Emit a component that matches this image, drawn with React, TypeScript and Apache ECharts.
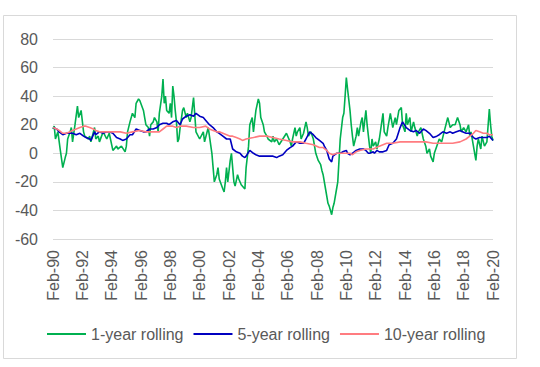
import React, { useEffect, useRef } from "react";
import * as echarts from "echarts";

// month index from Feb-90 (0) to Feb-20 (360)
const oneYear: [number, number][] = [
  [0, 17], [1, 19], [2, 10], [4, 15], [6, 2], [8, -10], [10, -3], [11, 0], [12, 10], [14, 15], [15, 18], [16, 8],
  [18, 20], [20, 33], [21, 25], [23, 30], [25, 15], [26, 12], [29, 10], [30, 12], [31, 8], [34, 18], [35, 10],
  [37, 12], [38, 8], [41, 15], [44, 10], [46, 14], [49, 2], [52, 5], [53, 3], [56, 5], [59, 1], [60, 5],
  [61, 15], [63, 22], [65, 28], [67, 25], [68, 35], [70, 38], [71, 37], [74, 30], [75, 25], [76, 20], [78, 18],
  [79, 12], [80, 20], [82, 22], [83, 25], [85, 22], [86, 15], [87, 28], [89, 40], [90, 52], [91, 35], [92, 40],
  [93, 30], [95, 28], [96, 35], [97, 25], [98, 47], [99, 40], [100, 30], [101, 22], [102, 8], [103, 10],
  [104, 18], [106, 30], [107, 32], [109, 25], [110, 28], [112, 22], [113, 25], [115, 39], [117, 15], [120, 10],
  [123, 15], [124, 8], [127, 18], [128, 12], [130, 0], [131, -10], [132, -20], [134, -15], [135, -10],
  [136, -18], [139, -25], [140, -27], [141, -20], [142, -10], [143, -20], [145, -5], [146, 0], [147, -10],
  [148, -20], [149, -23], [151, -15], [152, -18], [154, -22], [157, -25], [158, -10], [160, 5], [161, 20],
  [163, 25], [164, 15], [166, 30], [168, 38], [169, 35], [170, 25], [172, 20], [173, 15], [175, 12], [176, 10],
  [179, 8], [180, 12], [181, 8], [183, 10], [185, 6], [188, 10], [191, 14], [194, 8], [195, 5], [196, 10],
  [198, 18], [199, 12], [200, 15], [202, 18], [203, 10], [205, 14], [207, 22], [208, 18], [209, 12], [211, 15],
  [213, 10], [215, 0], [217, -5], [219, -8], [220, -12], [221, -15], [223, -25], [225, -35], [226, -37],
  [228, -43], [229, -38], [230, -35], [232, -25], [233, -20], [234, -5], [235, 10], [237, 25], [238, 28],
  [239, 40], [240, 53], [241, 45], [243, 30], [244, 20], [245, 12], [246, 5], [248, 12], [249, 18], [250, 12],
  [252, 22], [253, 25], [254, 15], [256, 30], [257, 20], [259, 5], [260, 0], [261, 10], [262, 5], [264, 8],
  [265, 3], [267, 10], [270, 28], [271, 15], [273, 12], [274, 18], [276, 28], [278, 18], [280, 25], [281, 20],
  [283, 30], [285, 32], [286, 20], [288, 15], [289, 28], [290, 20], [292, 25], [293, 15], [295, 22], [296, 18],
  [298, 12], [299, 15], [301, 18], [303, 10], [305, 5], [306, 0], [308, 3], [309, -2], [311, -6], [312, 0],
  [314, 5], [316, 10], [318, 8], [320, 15], [323, 25], [325, 18], [327, 20], [329, 20], [331, 25], [333, 20],
  [334, 15], [336, 18], [338, 15], [340, 20], [341, 12], [342, 15], [344, 5], [346, -5], [347, 5], [348, 10],
  [350, 3], [351, 12], [353, 5], [355, 8], [357, 31], [358, 20], [359, 12], [360, 9],
];

const fiveYear: [number, number][] = [
  [0, 18], [3, 17], [5, 15], [8, 13], [11, 14], [14, 14], [16, 14], [19, 13], [22, 14], [25, 12], [27, 11],
  [30, 10], [31, 9], [34, 15], [35, 13], [38, 15], [41, 14], [44, 15], [46, 15], [49, 14], [52, 11], [55, 10],
  [57, 9], [60, 10], [63, 13], [65, 13], [68, 17], [71, 16], [74, 15], [76, 15], [79, 17], [82, 17], [85, 18],
  [87, 20], [90, 21], [93, 21], [95, 20], [98, 22], [101, 23], [104, 20], [106, 24], [109, 26], [112, 27],
  [115, 26], [117, 28], [120, 26], [123, 25], [125, 23], [128, 20], [131, 18], [134, 15], [136, 14], [139, 12],
  [142, 10], [145, 10], [147, 3], [150, 1], [153, 0], [155, -2], [157, -3], [158, -2], [161, 2], [164, 0],
  [166, -1], [169, -2], [175, -2], [180, -2], [183, -3], [185, -2], [188, -1], [191, 2], [194, 4], [196, 5],
  [199, 8], [202, 7], [205, 7], [207, 10], [210, 15], [213, 13], [215, 11], [218, 9], [221, 7], [222, 5],
  [224, 2], [226, -4], [228, -6], [229, -2], [232, 0], [235, 0], [237, 1], [240, 2], [241, 0], [243, -1],
  [245, 0], [248, 2], [251, 3], [254, 3], [256, 2], [258, 0], [259, 0], [262, 1], [263, 0], [265, 2], [267, 1],
  [270, 1], [273, 2], [275, 6], [278, 7], [281, 10], [284, 18], [286, 22], [289, 18], [292, 16], [295, 15],
  [297, 16], [300, 14], [303, 17], [305, 16], [308, 14], [311, 11], [314, 12], [316, 13], [319, 15], [322, 14],
  [325, 15], [327, 14], [330, 15], [333, 16], [335, 15], [338, 14], [341, 14], [344, 11], [346, 10], [349, 11],
  [352, 11], [355, 11], [357, 12], [360, 9],
];

const tenYear: [number, number][] = [
  [0, 18], [3, 17], [5, 16], [8, 14], [11, 14], [14, 15], [16, 16], [19, 17], [22, 18], [25, 19], [27, 19],
  [30, 18], [33, 17], [35, 16], [38, 15], [44, 15], [49, 15], [55, 15], [60, 14], [65, 15], [71, 16], [76, 15],
  [82, 15], [87, 15], [90, 17], [93, 19], [95, 19], [98, 19], [101, 18], [104, 19], [109, 19], [115, 18],
  [120, 18], [125, 19], [128, 17], [131, 16], [134, 15], [136, 15], [139, 14], [142, 13], [145, 12], [147, 12],
  [150, 11], [153, 10], [155, 9], [158, 10], [164, 11], [169, 12], [175, 12], [180, 11], [185, 10], [191, 9],
  [196, 8], [202, 8], [207, 7], [213, 6], [218, 4], [221, 4], [224, 2], [226, 0], [229, -1], [232, 0], [235, 0],
  [240, 0], [243, 0], [245, -1], [248, 1], [251, 2], [256, 3], [262, 3], [267, 5], [273, 7], [278, 7], [284, 8],
  [289, 8], [295, 8], [300, 8], [305, 8], [311, 7], [316, 7], [322, 7], [327, 7], [333, 8], [338, 10], [341, 12],
  [344, 14], [346, 16], [349, 15], [352, 14], [355, 14], [357, 13], [360, 13],
];

const seriesNames = ["1-year rolling", "5-year rolling", "10-year rolling"];
const seriesColors = ["#00B050", "#0000C0", "#FF7C80"];
const startYear = 90;

export default function App() {
  const ref = useRef<HTMLDivElement>(null);
  useEffect(() => {
    if (!ref.current) return;
    const chart = echarts.init(ref.current, null, { renderer: "svg" });
    const textColor = "#595959";
    const font = "Liberation Sans, Arial, sans-serif";
    chart.setOption({
      animation: false,
      backgroundColor: "#ffffff",
      graphic: [
        {
          type: "rect",
          shape: { x: 3.5, y: 15.5, width: 513, height: 343 },
          style: { fill: "none", stroke: "#d9d9d9", lineWidth: 1 },
          silent: true,
        },
      ],
      grid: { left: 53, right: 47, top: 39, bottom: 128 },
      legend: {
        data: seriesNames,
        left: 42,
        top: 321,
        icon: "rect",
        itemWidth: 39,
        itemHeight: 2,
        itemGap: 10,
        textStyle: { color: textColor, fontSize: 16, fontFamily: font, padding: [0, 0, 0, 0] },
      },
      xAxis: {
        type: "value",
        min: 0,
        max: 360,
        interval: 24,
        splitLine: { show: false },
        axisLine: { show: false },
        axisTick: { show: false },
        axisLabel: {
          rotate: 90,
          margin: 11,
          color: textColor,
          fontSize: 16,
          fontFamily: font,
          showMinLabel: true,
          showMaxLabel: true,
          formatter: (v: number) =>
            "Feb-" + String((startYear + Math.round(v / 12)) % 100).padStart(2, "0"),
        },
      },
      yAxis: {
        type: "value",
        min: -60,
        max: 80,
        interval: 20,
        axisLine: { show: false },
        axisTick: { show: false },
        splitLine: { lineStyle: { color: "#d9d9d9", width: 1 } },
        axisLabel: { color: textColor, fontSize: 16, fontFamily: font, margin: 15 },
      },
      series: [oneYear, fiveYear, tenYear].map((d, i) => ({
        name: seriesNames[i],
        type: "line",
        data: d,
        symbol: "none",
        showSymbol: false,
        color: seriesColors[i],
        itemStyle: { color: seriesColors[i] },
        lineStyle: { color: seriesColors[i], width: 1.6 },
      })),
    });
    return () => chart.dispose();
  }, []);
  return (
    <div
      ref={ref}
      style={{ position: "absolute", left: 0, top: 0, width: 540, height: 367 }}
    />
  );
}
